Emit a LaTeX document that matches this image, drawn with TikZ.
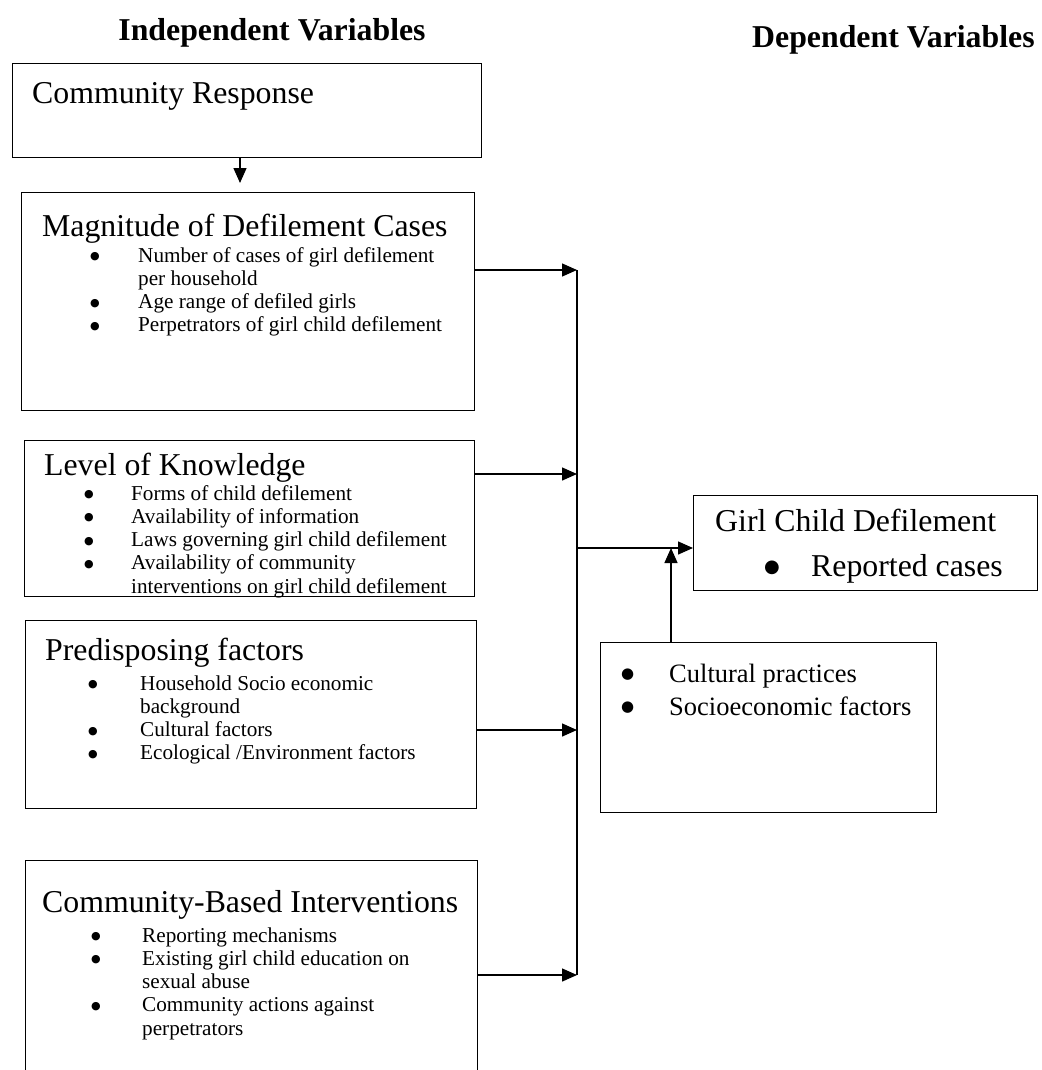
\documentclass[tikz,border=0pt]{standalone}
\usepackage{fontspec}
\setmainfont{Liberation Serif}
\newfontfamily\symfont{DejaVu Sans}
\usetikzlibrary{arrows.meta}

\newcommand{\bigsz}{\fontsize{31.8}{36}\selectfont}
\newcommand{\midsz}{\fontsize{26.5}{33}\selectfont}
\newcommand{\smlsz}{\fontsize{21.2}{23.3}\selectfont}
% round list mark, #1 = its size
\newcommand{\bul}[1]{\raisebox{0.12em}{\fontsize{#1}{0}\symfont ●}}

\tikzset{
  box/.style={draw, line width=1.4pt, anchor=north west, inner sep=0pt},
  head/.style={anchor=base west, inner sep=0pt, font=\bigsz},
  vartitle/.style={inner sep=0pt, font=\bfseries\bigsz},
  items/.style={anchor=base west, inner sep=0pt, font=\smlsz},
  arr/.style={line width=1.4pt, -{Triangle[length=15pt,width=13pt]}}
}

\begin{document}
\begin{tikzpicture}[x=1pt, y=-1pt]
    \useasboundingbox (0,0) rectangle (1041,1070);

    % Titles
    \node[vartitle, anchor=base] (indep) at (272,41) {Independent Variables};
    \node[vartitle, anchor=base west] (dep) at (752,48) {Dependent Variables};

    % Boxes
    \node[box, minimum width=469pt, minimum height=94pt] (resp) at (12,63) {};
    \node[box, minimum width=453pt, minimum height=218pt] (mag) at (21,192) {};
    \node[box, minimum width=450pt, minimum height=156pt] (know) at (24,440) {};
    \node[box, minimum width=451pt, minimum height=188pt] (pred) at (25,620) {};
    \node[box, minimum width=452pt, minimum height=230pt] (cbi) at (25,860) {};
    \node[box, minimum width=344pt, minimum height=95pt] (gcd) at (693,495) {};
    \node[box, minimum width=336pt, minimum height=170pt] (cult) at (600,642) {};

    % Box texts
    \node[head] (resptxt) at (32,104) {Community Response};

    \node[head] (magtxt) at (42,236) {Magnitude of Defilement Cases};
    \node[items] (maglist) at (90,262) {\begin{tabular}[t]{@{}p{48pt}@{}l@{}}
        \bul{11} & Number of cases of girl defilement\\
                 & per household\\
        \bul{11} & Age range of defiled girls\\
        \bul{11} & Perpetrators of girl child defilement
      \end{tabular}};

    \node[head] (knowtxt) at (44,475) {Level of Knowledge};
    \node[items] (knowlist) at (84,500) {\begin{tabular}[t]{@{}p{47pt}@{}l@{}}
        \bul{11} & Forms of child defilement\\
        \bul{11} & Availability of information\\
        \bul{11} & Laws governing girl child defilement\\
        \bul{11} & Availability of community\\
                 & interventions on girl child defilement
      \end{tabular}};

    \node[head] (predtxt) at (45,660) {Predisposing factors};
    \node[items] (predlist) at (88,690) {\begin{tabular}[t]{@{}p{52pt}@{}l@{}}
        \bul{11} & Household Socio economic\\
                 & background\\
        \bul{11} & Cultural factors\\
        \bul{11} & Ecological /Environment factors
      \end{tabular}};

    \node[head] (cbitxt) at (42,912) {Community-Based Interventions};
    \node[items] (cbilist) at (91,942) {\begin{tabular}[t]{@{}p{51pt}@{}l@{}}
        \bul{11} & Reporting mechanisms\\
        \bul{11} & Existing girl child education on\\
                 & sexual abuse\\
        \bul{11} & Community actions against\\
                 & perpetrators
      \end{tabular}};

    \node[head] (gcdtxt) at (715,531) {Girl Child Defilement};
    \node[head] (gcdlist) at (764,576) {\begin{tabular}[t]{@{}p{47pt}@{}l@{}}
        \bul{18} & Reported cases
      \end{tabular}};

    \node[items, font=\midsz] (cultlist) at (621,682) {\begin{tabular}[t]{@{}p{48pt}@{}l@{}}
        \bul{15} & Cultural practices\\
        \bul{15} & Socioeconomic factors
      \end{tabular}};

    % Connections
    \coordinate (down) at (240,0);
    \coordinate (bustop) at (577,270);
    \coordinate (bus2) at (577,474);
    \coordinate (bus3) at (577,730);
    \coordinate (busbot) at (577,975);
    \coordinate (join) at (577,548);
    \coordinate (up) at (671,548);

    \draw[arr, shorten >=9pt] (resp.south -| down) -- (mag.north -| down);
    \draw[line width=1.4pt] (bustop) -- (busbot);
    \draw[arr] (mag.east |- bustop) -- (bustop);
    \draw[arr] (know.east |- bus2) -- (bus2);
    \draw[arr] (pred.east |- bus3) -- (bus3);
    \draw[arr] (cbi.east |- busbot) -- (busbot);
    \draw[arr] (join) -- (gcd.west |- join);
    \draw[arr] (cult.north -| up) -- (up);
\end{tikzpicture}
\end{document}
